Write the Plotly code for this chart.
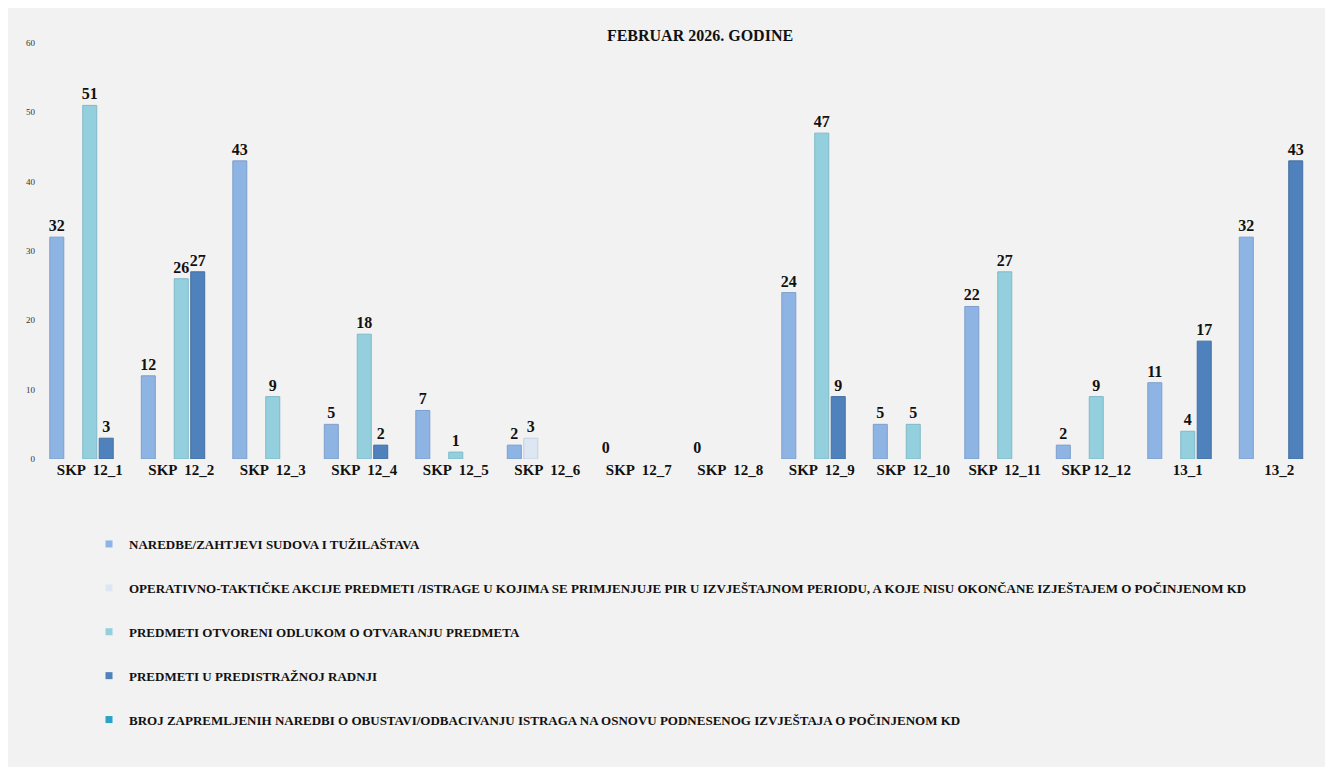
import plotly.graph_objects as go

categories = ["SKP  12_1", "SKP  12_2", "SKP  12_3", "SKP  12_4", "SKP  12_5", "SKP  12_6",
              "SKP  12_7", "SKP  12_8", "SKP  12_9", "SKP  12_10", "SKP  12_11", "SKP 12_12",
              "13_1", "13_2"]

series_names = [
    "NAREDBE/ZAHTJEVI SUDOVA I TUŽILAŠTAVA",
    "OPERATIVNO-TAKTIČKE AKCIJE PREDMETI /ISTRAGE U KOJIMA SE PRIMJENJUJE PIR U IZVJEŠTAJNOM PERIODU, A KOJE NISU OKONČANE IZJEŠTAJEM O POČINJENOM KD",
    "PREDMETI OTVORENI ODLUKOM O OTVARANJU PREDMETA",
    "PREDMETI U PREDISTRAŽNOJ RADNJI",
    "BROJ ZAPREMLJENIH NAREDBI O OBUSTAVI/ODBACIVANJU ISTRAGA NA OSNOVU PODNESENOG IZVJEŠTAJA O POČINJENOM KD",
]

naredbe = [32, 12, 43, 5, 7, 2, 0, 0, 24, 5, 22, 2, 11, 32]
operativno = [None, None, None, None, None, 3, None, None, None, None, None, None, None, None]
otvoreni = [51, 26, 9, 18, 1, None, None, None, 47, 5, 27, 9, 4, None]
predistrazna = [3, 27, None, 2, None, None, None, None, 9, None, None, None, 17, 43]
obustava = [None] * 14

y_ticks = [0, 10, 20, 30, 40, 50, 60]
title_text = "FEBRUAR 2026. GODINE"

all_values = [naredbe, operativno, otvoreni, predistrazna, obustava]
colors = ["#8db4e3", "#dde7f3", "#93cfdd", "#4f81bd", "#2aa3c4"]
line_colors = ["#7d9fcb", "#c4d0de", "#80b9c7", "#44709f", "#2389a5"]

FONT = "Liberation Serif"

W, H = 1333, 767
L, R, T, B = 36, 16, 35, 316
pw = W - L - R
ph = H - T - B


def px_x(p):
    return (p - L) / pw


def px_y(p):
    return (H - B - p) / ph


fig = go.Figure()
for i, (name, vals) in enumerate(zip(series_names, all_values)):
    fig.add_trace(go.Bar(
        x=categories, y=vals, name=name,
        marker=dict(color=colors[i],
                    line=dict(color=line_colors[i],
                              width=[(1 if (v is not None and v > 0) else 0) for v in vals])),
        text=[("" if v is None else str(v)) for v in vals],
        textposition="outside",
        constraintext="none",
        textfont=dict(family=FONT, size=16, color="#111111", weight="bold"),
        showlegend=False,
        cliponaxis=False,
        hoverinfo="x+y+name",
    ))

# legend entries with small square symbols
for i, name in enumerate(series_names):
    fig.add_trace(go.Scatter(
        x=[None], y=[None], mode="markers", name=name,
        marker=dict(symbol="square", size=7, color=colors[i]),
        legendgroup="g%d" % i, showlegend=True,
    ))

fig.update_layout(
    width=W, height=H,
    margin=dict(l=L, r=R, t=T, b=B),
    paper_bgcolor="#f2f2f2",
    plot_bgcolor="rgba(0,0,0,0)",
    barmode="group",
    bargap=0.1,
    bargroupgap=0.15,
    font=dict(family=FONT, color="#111111"),
    title=dict(text=title_text, x=692 / W, xanchor="center",
               y=1 - 27 / H, yanchor="middle",
               font=dict(family=FONT, size=16, color="#111111", weight="bold")),
    xaxis=dict(showgrid=False, showline=False, zeroline=False, ticks="",
               tickfont=dict(family=FONT, size=15, color="#111111", weight="bold")),
    yaxis=dict(range=[0, 60], tickvals=y_ticks, showgrid=False, showline=False,
               zeroline=False, ticks="", ticklabelstandoff=8,
               tickfont=dict(family=FONT, size=9, color="#333333")),
    showlegend=True,
    legend=dict(orientation="v", x=px_x(81), xanchor="left", y=px_y(521), yanchor="top",
                bgcolor="rgba(0,0,0,0)", tracegroupgap=24,
                font=dict(family=FONT, size=13, color="#111111", weight="bold"),
                itemclick=False, itemdoubleclick=False),
)

fig.write_html("out.html")
